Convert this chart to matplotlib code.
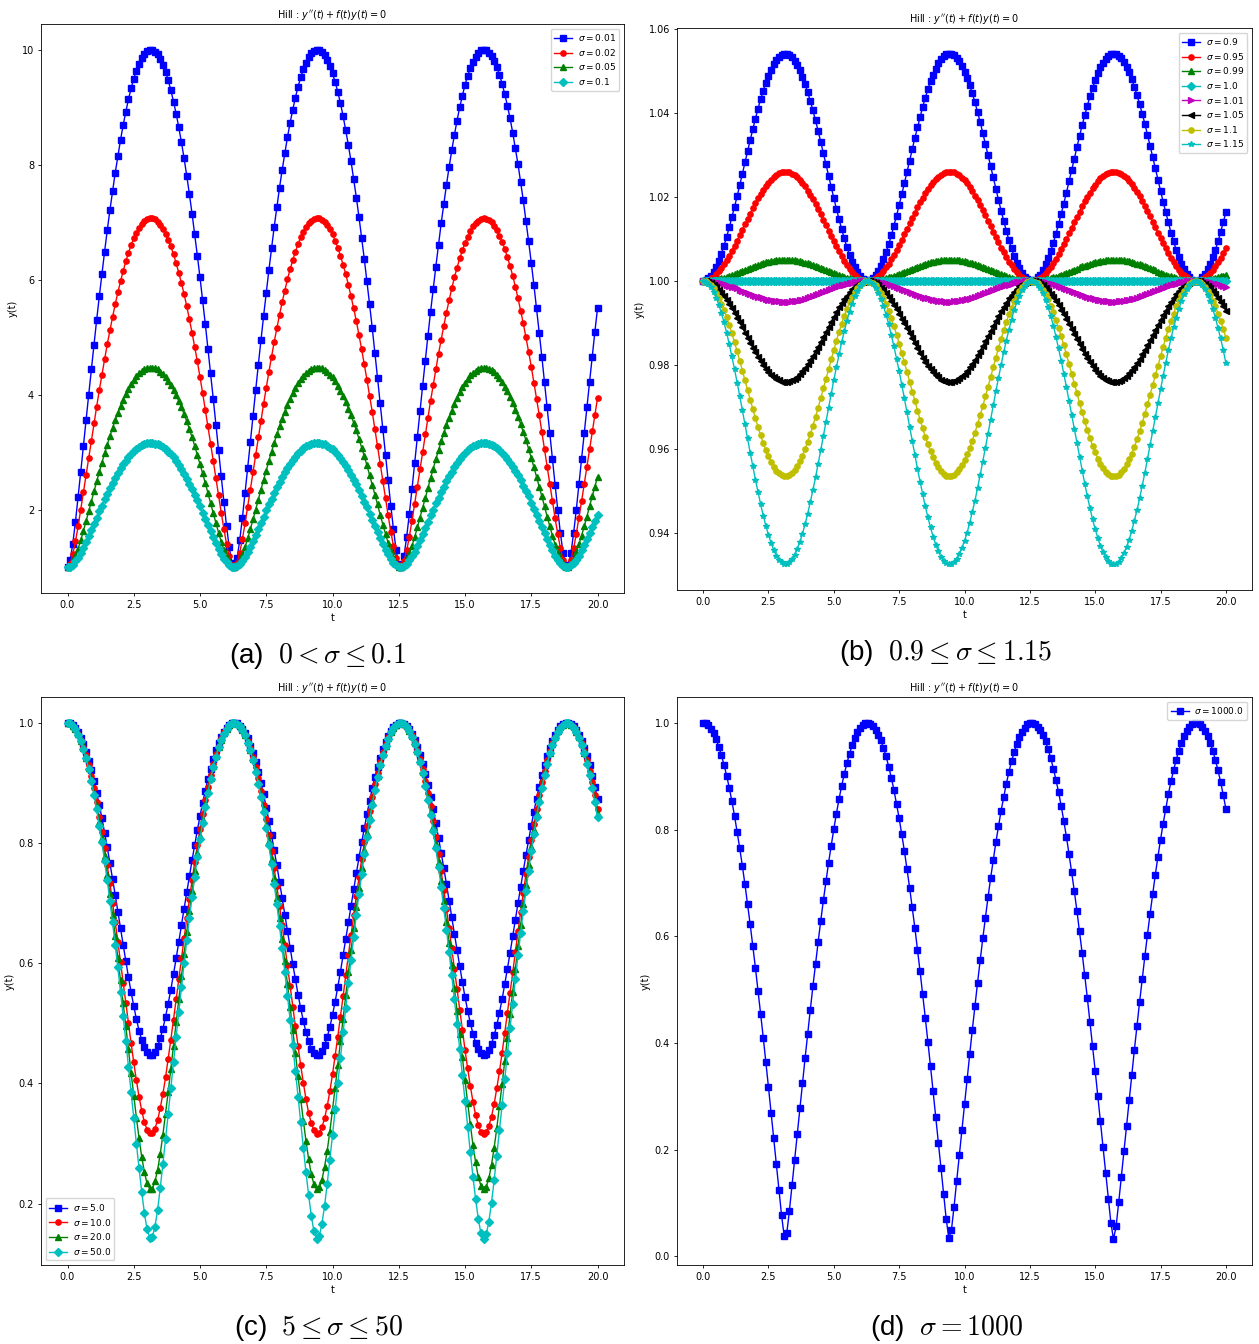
import numpy as np
import matplotlib
matplotlib.use("Agg")
import matplotlib.pyplot as plt

# Solutions of the Hill equation for several sigma values.
# Time grid: 0 .. 20 with step 0.1 (201 samples per curve).
t = np.linspace(0, 20, 201)

# ---- panel (a): 0 < sigma <= 0.1 ----
sig_a = ["0.01", "0.02", "0.05", "0.1"]
y_a1 = [1.00, 1.12, 1.41, 1.79, 2.22, 2.66, 3.11, 3.56, 4.00, 4.44,
        4.87, 5.30, 5.71, 6.10, 6.49, 6.86, 7.21, 7.54, 7.86, 8.15,
        8.43, 8.69, 8.92, 9.14, 9.33, 9.50, 9.64, 9.76, 9.86, 9.93,
        9.98, 10.00, 10.00, 9.97, 9.92, 9.84, 9.74, 9.62, 9.47, 9.30,
        9.10, 8.89, 8.65, 8.39, 8.11, 7.81, 7.49, 7.15, 6.79, 6.42,
        6.04, 5.64, 5.23, 4.80, 4.37, 3.93, 3.48, 3.03, 2.58, 2.14,
        1.72, 1.35, 1.08, 1.00, 1.16, 1.47, 1.86, 2.29, 2.73, 3.18,
        3.63, 4.08, 4.52, 4.95, 5.37, 5.77, 6.17, 6.55, 6.92, 7.26,
        7.60, 7.91, 8.20, 8.48, 8.73, 8.96, 9.17, 9.36, 9.52, 9.66,
        9.78, 9.87, 9.94, 9.98, 10.00, 9.99, 9.96, 9.91, 9.83, 9.72,
        9.59, 9.44, 9.27, 9.07, 8.85, 8.60, 8.34, 8.06, 7.75, 7.43,
        7.09, 6.73, 6.36, 5.97, 5.57, 5.16, 4.73, 4.29, 3.85, 3.40,
        2.95, 2.51, 2.07, 1.66, 1.30, 1.05, 1.01, 1.20, 1.53, 1.93,
        2.36, 2.81, 3.26, 3.71, 4.15, 4.59, 5.02, 5.44, 5.84, 6.23,
        6.61, 6.98, 7.32, 7.65, 7.96, 8.25, 8.52, 8.77, 9.00, 9.20,
        9.39, 9.55, 9.68, 9.79, 9.88, 9.95, 9.99, 10.00, 9.99, 9.95,
        9.89, 9.81, 9.70, 9.57, 9.41, 9.23, 9.03, 8.81, 8.56, 8.29,
        8.01, 7.70, 7.38, 7.03, 6.67, 6.30, 5.91, 5.50, 5.08, 4.66,
        4.22, 3.78, 3.33, 2.88, 2.43, 2.00, 1.59, 1.25, 1.03, 1.03,
        1.25, 1.60, 2.00, 2.44, 2.88, 3.33, 3.78, 4.22, 4.66, 5.09,
        5.50]
y_a2 = [1.00, 1.06, 1.22, 1.45, 1.71, 2.00, 2.30, 2.60, 2.90, 3.20,
        3.50, 3.79, 4.08, 4.35, 4.62, 4.88, 5.12, 5.35, 5.57, 5.78,
        5.97, 6.15, 6.32, 6.47, 6.60, 6.72, 6.82, 6.90, 6.97, 7.02,
        7.05, 7.07, 7.07, 7.05, 7.01, 6.96, 6.89, 6.80, 6.70, 6.58,
        6.44, 6.29, 6.12, 5.94, 5.75, 5.54, 5.31, 5.08, 4.83, 4.58,
        4.31, 4.03, 3.74, 3.45, 3.15, 2.85, 2.55, 2.25, 1.95, 1.67,
        1.41, 1.19, 1.04, 1.00, 1.08, 1.25, 1.49, 1.76, 2.05, 2.35,
        2.65, 2.95, 3.26, 3.55, 3.84, 4.12, 4.40, 4.66, 4.92, 5.16,
        5.39, 5.61, 5.81, 6.01, 6.18, 6.34, 6.49, 6.62, 6.74, 6.83,
        6.92, 6.98, 7.03, 7.06, 7.07, 7.07, 7.04, 7.01, 6.95, 6.88,
        6.79, 6.68, 6.56, 6.42, 6.26, 6.10, 5.91, 5.71, 5.50, 5.28,
        5.04, 4.79, 4.53, 4.26, 3.98, 3.70, 3.40, 3.10, 2.80, 2.50,
        2.20, 1.90, 1.62, 1.37, 1.16, 1.03, 1.01, 1.10, 1.29, 1.53,
        1.81, 2.10, 2.40, 2.70, 3.01, 3.31, 3.60, 3.89, 4.17, 4.44,
        4.71, 4.96, 5.20, 5.43, 5.64, 5.85, 6.04, 6.21, 6.37, 6.51,
        6.64, 6.75, 6.85, 6.93, 6.99, 7.03, 7.06, 7.07, 7.06, 7.04,
        7.00, 6.94, 6.86, 6.77, 6.66, 6.54, 6.39, 6.24, 6.07, 5.88,
        5.68, 5.46, 5.24, 5.00, 4.75, 4.49, 4.21, 3.93, 3.65, 3.35,
        3.05, 2.75, 2.45, 2.15, 1.85, 1.58, 1.33, 1.13, 1.01, 1.02,
        1.13, 1.33, 1.58, 1.86, 2.15, 2.45, 2.75, 3.06, 3.36, 3.65,
        3.94]
y_a3 = [1.00, 1.02, 1.09, 1.19, 1.32, 1.47, 1.63, 1.80, 1.97, 2.14,
        2.32, 2.49, 2.66, 2.82, 2.98, 3.13, 3.28, 3.42, 3.56, 3.68,
        3.80, 3.91, 4.01, 4.10, 4.18, 4.26, 4.32, 4.37, 4.41, 4.44,
        4.46, 4.47, 4.47, 4.46, 4.44, 4.40, 4.36, 4.31, 4.24, 4.17,
        4.09, 4.00, 3.89, 3.78, 3.66, 3.54, 3.40, 3.26, 3.11, 2.95,
        2.79, 2.63, 2.46, 2.29, 2.11, 1.94, 1.77, 1.60, 1.44, 1.30,
        1.17, 1.08, 1.02, 1.00, 1.03, 1.11, 1.21, 1.35, 1.50, 1.66,
        1.83, 2.00, 2.17, 2.35, 2.52, 2.68, 2.85, 3.01, 3.16, 3.31,
        3.45, 3.58, 3.70, 3.82, 3.93, 4.03, 4.12, 4.20, 4.27, 4.33,
        4.38, 4.42, 4.45, 4.46, 4.47, 4.47, 4.46, 4.43, 4.40, 4.35,
        4.30, 4.23, 4.16, 4.07, 3.98, 3.88, 3.76, 3.64, 3.51, 3.38,
        3.23, 3.08, 2.93, 2.77, 2.60, 2.43, 2.26, 2.09, 1.91, 1.74,
        1.58, 1.42, 1.28, 1.16, 1.06, 1.01, 1.00, 1.04, 1.12, 1.23,
        1.37, 1.52, 1.69, 1.86, 2.03, 2.20, 2.37, 2.55, 2.71, 2.88,
        3.03, 3.19, 3.33, 3.47, 3.60, 3.72, 3.84, 3.95, 4.04, 4.13,
        4.21, 4.28, 4.34, 4.38, 4.42, 4.45, 4.47, 4.47, 4.47, 4.45,
        4.43, 4.39, 4.34, 4.29, 4.22, 4.14, 4.06, 3.96, 3.86, 3.74,
        3.62, 3.49, 3.35, 3.21, 3.06, 2.90, 2.74, 2.57, 2.40, 2.23,
        2.06, 1.88, 1.71, 1.55, 1.39, 1.25, 1.14, 1.05, 1.01, 1.01,
        1.05, 1.14, 1.26, 1.40, 1.55, 1.71, 1.88, 2.06, 2.23, 2.40,
        2.57]
y_a4 = [1.00, 1.01, 1.04, 1.10, 1.16, 1.25, 1.34, 1.43, 1.54, 1.64,
        1.75, 1.86, 1.97, 2.07, 2.18, 2.28, 2.37, 2.47, 2.55, 2.64,
        2.72, 2.79, 2.85, 2.92, 2.97, 3.02, 3.06, 3.09, 3.12, 3.14,
        3.16, 3.16, 3.16, 3.15, 3.14, 3.12, 3.09, 3.05, 3.01, 2.96,
        2.91, 2.84, 2.78, 2.70, 2.62, 2.54, 2.45, 2.36, 2.26, 2.16,
        2.06, 1.95, 1.84, 1.73, 1.63, 1.52, 1.42, 1.32, 1.23, 1.15,
        1.09, 1.04, 1.01, 1.00, 1.02, 1.05, 1.11, 1.18, 1.26, 1.35,
        1.45, 1.56, 1.66, 1.77, 1.88, 1.99, 2.09, 2.19, 2.29, 2.39,
        2.48, 2.57, 2.65, 2.73, 2.80, 2.87, 2.92, 2.98, 3.02, 3.07,
        3.10, 3.12, 3.14, 3.16, 3.16, 3.16, 3.15, 3.14, 3.11, 3.08,
        3.05, 3.00, 2.95, 2.90, 2.83, 2.76, 2.69, 2.61, 2.52, 2.44,
        2.34, 2.24, 2.14, 2.04, 1.93, 1.82, 1.72, 1.61, 1.50, 1.40,
        1.30, 1.22, 1.14, 1.08, 1.03, 1.00, 1.00, 1.02, 1.06, 1.12,
        1.19, 1.27, 1.37, 1.47, 1.57, 1.68, 1.79, 1.90, 2.00, 2.11,
        2.21, 2.31, 2.40, 2.50, 2.58, 2.66, 2.74, 2.81, 2.88, 2.93,
        2.99, 3.03, 3.07, 3.10, 3.13, 3.15, 3.16, 3.16, 3.16, 3.15,
        3.13, 3.11, 3.08, 3.04, 2.99, 2.94, 2.89, 2.82, 2.75, 2.68,
        2.60, 2.51, 2.42, 2.32, 2.23, 2.12, 2.02, 1.91, 1.81, 1.70,
        1.59, 1.49, 1.38, 1.29, 1.20, 1.13, 1.07, 1.02, 1.00, 1.00,
        1.03, 1.07, 1.13, 1.20, 1.29, 1.39, 1.49, 1.59, 1.70, 1.81,
        1.91]

# ---- panel (b): 0.9 <= sigma <= 1.15 ----
sig_b = ["0.9", "0.95", "0.99", "1.0", "1.01", "1.05", "1.1", "1.15"]
y_b1 = [1.0000, 1.0001, 1.0006, 1.0012, 1.0022, 1.0034, 1.0048, 1.0065, 1.0084, 1.0105,
        1.0127, 1.0151, 1.0176, 1.0201, 1.0228, 1.0255, 1.0282, 1.0309, 1.0335, 1.0361,
        1.0386, 1.0410, 1.0432, 1.0453, 1.0472, 1.0488, 1.0503, 1.0516, 1.0526, 1.0533,
        1.0538, 1.0541, 1.0541, 1.0538, 1.0532, 1.0524, 1.0514, 1.0501, 1.0486, 1.0468,
        1.0449, 1.0428, 1.0406, 1.0382, 1.0357, 1.0331, 1.0304, 1.0277, 1.0250, 1.0223,
        1.0197, 1.0171, 1.0147, 1.0123, 1.0101, 1.0081, 1.0062, 1.0046, 1.0032, 1.0020,
        1.0011, 1.0005, 1.0001, 1.0000, 1.0002, 1.0007, 1.0014, 1.0024, 1.0036, 1.0051,
        1.0068, 1.0087, 1.0108, 1.0131, 1.0155, 1.0180, 1.0206, 1.0232, 1.0259, 1.0286,
        1.0313, 1.0340, 1.0365, 1.0390, 1.0414, 1.0436, 1.0456, 1.0475, 1.0491, 1.0505,
        1.0518, 1.0527, 1.0534, 1.0539, 1.0541, 1.0540, 1.0537, 1.0531, 1.0523, 1.0512,
        1.0498, 1.0483, 1.0465, 1.0446, 1.0425, 1.0402, 1.0378, 1.0352, 1.0326, 1.0300,
        1.0273, 1.0246, 1.0219, 1.0193, 1.0167, 1.0143, 1.0119, 1.0097, 1.0077, 1.0059,
        1.0043, 1.0030, 1.0018, 1.0010, 1.0004, 1.0001, 1.0000, 1.0002, 1.0008, 1.0015,
        1.0026, 1.0039, 1.0054, 1.0071, 1.0091, 1.0112, 1.0135, 1.0159, 1.0184, 1.0210,
        1.0237, 1.0264, 1.0291, 1.0318, 1.0344, 1.0370, 1.0394, 1.0417, 1.0439, 1.0459,
        1.0477, 1.0494, 1.0508, 1.0519, 1.0529, 1.0535, 1.0539, 1.0541, 1.0540, 1.0536,
        1.0530, 1.0521, 1.0510, 1.0496, 1.0480, 1.0462, 1.0442, 1.0421, 1.0398, 1.0374,
        1.0348, 1.0322, 1.0295, 1.0268, 1.0241, 1.0215, 1.0188, 1.0163, 1.0139, 1.0115,
        1.0094, 1.0074, 1.0056, 1.0041, 1.0028, 1.0017, 1.0009, 1.0003, 1.0000, 1.0000,
        1.0003, 1.0009, 1.0017, 1.0028, 1.0041, 1.0057, 1.0074, 1.0094, 1.0116, 1.0139,
        1.0163]
y_b2 = [1.0000, 1.0001, 1.0003, 1.0006, 1.0010, 1.0016, 1.0023, 1.0031, 1.0040, 1.0050,
        1.0060, 1.0072, 1.0084, 1.0096, 1.0109, 1.0122, 1.0135, 1.0147, 1.0160, 1.0173,
        1.0185, 1.0196, 1.0207, 1.0217, 1.0226, 1.0234, 1.0241, 1.0247, 1.0252, 1.0256,
        1.0258, 1.0260, 1.0259, 1.0258, 1.0255, 1.0252, 1.0246, 1.0240, 1.0233, 1.0225,
        1.0215, 1.0205, 1.0194, 1.0183, 1.0171, 1.0158, 1.0145, 1.0132, 1.0119, 1.0106,
        1.0094, 1.0082, 1.0070, 1.0058, 1.0048, 1.0038, 1.0029, 1.0022, 1.0015, 1.0010,
        1.0005, 1.0002, 1.0000, 1.0000, 1.0001, 1.0003, 1.0007, 1.0011, 1.0017, 1.0024,
        1.0032, 1.0041, 1.0051, 1.0062, 1.0074, 1.0086, 1.0098, 1.0111, 1.0124, 1.0137,
        1.0150, 1.0162, 1.0175, 1.0187, 1.0198, 1.0209, 1.0218, 1.0227, 1.0235, 1.0242,
        1.0248, 1.0253, 1.0256, 1.0259, 1.0260, 1.0259, 1.0258, 1.0255, 1.0251, 1.0245,
        1.0239, 1.0232, 1.0223, 1.0214, 1.0203, 1.0192, 1.0181, 1.0168, 1.0156, 1.0143,
        1.0130, 1.0117, 1.0104, 1.0092, 1.0079, 1.0068, 1.0057, 1.0046, 1.0037, 1.0028,
        1.0021, 1.0014, 1.0009, 1.0005, 1.0002, 1.0000, 1.0000, 1.0001, 1.0004, 1.0007,
        1.0012, 1.0018, 1.0026, 1.0034, 1.0043, 1.0053, 1.0064, 1.0076, 1.0088, 1.0100,
        1.0113, 1.0126, 1.0139, 1.0152, 1.0164, 1.0177, 1.0189, 1.0200, 1.0210, 1.0220,
        1.0229, 1.0237, 1.0244, 1.0249, 1.0254, 1.0257, 1.0259, 1.0260, 1.0259, 1.0257,
        1.0254, 1.0250, 1.0244, 1.0238, 1.0230, 1.0221, 1.0212, 1.0201, 1.0190, 1.0179,
        1.0166, 1.0154, 1.0141, 1.0128, 1.0115, 1.0102, 1.0090, 1.0077, 1.0066, 1.0055,
        1.0045, 1.0035, 1.0027, 1.0019, 1.0013, 1.0008, 1.0004, 1.0001, 1.0000, 1.0000,
        1.0001, 1.0004, 1.0008, 1.0013, 1.0019, 1.0027, 1.0035, 1.0045, 1.0055, 1.0066,
        1.0078]
y_b3 = [1.0, 1.00001, 1.00005, 1.00011, 1.00020, 1.00031, 1.00044, 1.00059, 1.00077, 1.00096,
        1.00116, 1.00138, 1.00161, 1.00185, 1.00210, 1.00235, 1.00260, 1.00285, 1.00310, 1.00334,
        1.00357, 1.00380, 1.00401, 1.00420, 1.00438, 1.00454, 1.00468, 1.00480, 1.00490, 1.00497,
        1.00502, 1.00504, 1.00504, 1.00501, 1.00496, 1.00488, 1.00478, 1.00466, 1.00452, 1.00435,
        1.00417, 1.00397, 1.00376, 1.00353, 1.00330, 1.00305, 1.00281, 1.00255, 1.00230, 1.00205,
        1.00181, 1.00157, 1.00134, 1.00112, 1.00092, 1.00073, 1.00057, 1.00042, 1.00029, 1.00018,
        1.00010, 1.00004, 1.00001, 1.0, 1.00002, 1.00006, 1.00013, 1.00022, 1.00033, 1.00047,
        1.00062, 1.00080, 1.00099, 1.00120, 1.00142, 1.00165, 1.00189, 1.00214, 1.00239, 1.00264,
        1.00289, 1.00314, 1.00338, 1.00361, 1.00383, 1.00404, 1.00423, 1.00441, 1.00457, 1.00470,
        1.00482, 1.00491, 1.00498, 1.00502, 1.00504, 1.00504, 1.00500, 1.00495, 1.00487, 1.00476,
        1.00464, 1.00449, 1.00432, 1.00414, 1.00394, 1.00372, 1.00349, 1.00326, 1.00301, 1.00276,
        1.00251, 1.00226, 1.00201, 1.00177, 1.00153, 1.00130, 1.00109, 1.00089, 1.00071, 1.00054,
        1.00039, 1.00027, 1.00017, 1.00009, 1.00003, 1.00001, 1.0, 1.00002, 1.00007, 1.00014,
        1.00023, 1.00035, 1.00049, 1.00065, 1.00083, 1.00102, 1.00123, 1.00145, 1.00169, 1.00193,
        1.00218, 1.00243, 1.00268, 1.00293, 1.00318, 1.00342, 1.00365, 1.00387, 1.00408, 1.00427,
        1.00444, 1.00460, 1.00473, 1.00484, 1.00493, 1.00499, 1.00503, 1.00505, 1.00504, 1.00500,
        1.00494, 1.00486, 1.00475, 1.00462, 1.00447, 1.00430, 1.00411, 1.00391, 1.00369, 1.00346,
        1.00322, 1.00297, 1.00272, 1.00247, 1.00222, 1.00197, 1.00173, 1.00149, 1.00127, 1.00106,
        1.00086, 1.00068, 1.00051, 1.00037, 1.00025, 1.00015, 1.00008, 1.00003, 1.0, 1.0,
        1.00003, 1.00008, 1.00015, 1.00025, 1.00037, 1.00052, 1.00068, 1.00086, 1.00106, 1.00127,
        1.00149]
y_b4 = [1.0] * 201  # sigma = 1 stays flat at 1.0
y_b5 = [1.0, 0.99999, 0.99995, 0.99989, 0.99980, 0.99970, 0.99957, 0.99942, 0.99924, 0.99906,
        0.99886, 0.99864, 0.99842, 0.99818, 0.99794, 0.99769, 0.99745, 0.99720, 0.99696, 0.99672,
        0.99649, 0.99627, 0.99606, 0.99588, 0.99570, 0.99554, 0.99540, 0.99529, 0.99519, 0.99512,
        0.99507, 0.99505, 0.99505, 0.99508, 0.99513, 0.99521, 0.99531, 0.99542, 0.99556, 0.99573,
        0.99590, 0.99610, 0.99631, 0.99653, 0.99676, 0.99700, 0.99724, 0.99750, 0.99774, 0.99799,
        0.99822, 0.99846, 0.99868, 0.99890, 0.99910, 0.99928, 0.99944, 0.99959, 0.99972, 0.99982,
        0.99990, 0.99996, 0.99999, 1.0, 0.99998, 0.99994, 0.99987, 0.99978, 0.99968, 0.99954,
        0.99939, 0.99921, 0.99903, 0.99882, 0.99861, 0.99838, 0.99814, 0.99790, 0.99765, 0.99741,
        0.99716, 0.99692, 0.99668, 0.99645, 0.99624, 0.99603, 0.99585, 0.99567, 0.99551, 0.99538,
        0.99527, 0.99518, 0.99511, 0.99507, 0.99505, 0.99505, 0.99509, 0.99514, 0.99522, 0.99533,
        0.99544, 0.99559, 0.99576, 0.99593, 0.99613, 0.99635, 0.99657, 0.99680, 0.99704, 0.99729,
        0.99754, 0.99778, 0.99803, 0.99826, 0.99850, 0.99872, 0.99893, 0.99913, 0.99930, 0.99947,
        0.99962, 0.99973, 0.99983, 0.99991, 0.99997, 0.99999, 1.0, 0.99998, 0.99993, 0.99986,
        0.99977, 0.99966, 0.99952, 0.99936, 0.99918, 0.99900, 0.99879, 0.99858, 0.99834, 0.99810,
        0.99786, 0.99761, 0.99737, 0.99712, 0.99688, 0.99664, 0.99642, 0.99620, 0.99599, 0.99581,
        0.99564, 0.99548, 0.99536, 0.99525, 0.99516, 0.99510, 0.99506, 0.99504, 0.99505, 0.99509,
        0.99515, 0.99523, 0.99534, 0.99546, 0.99561, 0.99578, 0.99596, 0.99616, 0.99638, 0.99660,
        0.99684, 0.99708, 0.99733, 0.99757, 0.99782, 0.99807, 0.99830, 0.99854, 0.99875, 0.99896,
        0.99916, 0.99933, 0.99950, 0.99964, 0.99975, 0.99985, 0.99992, 0.99997, 1.0, 1.0,
        0.99997, 0.99992, 0.99985, 0.99975, 0.99964, 0.99949, 0.99933, 0.99916, 0.99896, 0.99875,
        0.99854]
y_b6 = [1.0000, 0.9999, 0.9998, 0.9995, 0.9991, 0.9985, 0.9979, 0.9972, 0.9964, 0.9955,
        0.9945, 0.9935, 0.9924, 0.9912, 0.9901, 0.9889, 0.9877, 0.9865, 0.9853, 0.9841,
        0.9830, 0.9819, 0.9809, 0.9800, 0.9791, 0.9783, 0.9777, 0.9771, 0.9766, 0.9763,
        0.9760, 0.9759, 0.9759, 0.9761, 0.9763, 0.9767, 0.9772, 0.9778, 0.9785, 0.9792,
        0.9801, 0.9811, 0.9821, 0.9832, 0.9843, 0.9855, 0.9867, 0.9879, 0.9891, 0.9903,
        0.9914, 0.9926, 0.9937, 0.9947, 0.9956, 0.9965, 0.9973, 0.9980, 0.9986, 0.9991,
        0.9995, 0.9998, 1.0000, 1.0000, 0.9999, 0.9997, 0.9994, 0.9990, 0.9984, 0.9978,
        0.9971, 0.9962, 0.9953, 0.9943, 0.9933, 0.9922, 0.9910, 0.9899, 0.9887, 0.9875,
        0.9863, 0.9851, 0.9839, 0.9828, 0.9817, 0.9807, 0.9798, 0.9790, 0.9782, 0.9775,
        0.9770, 0.9765, 0.9762, 0.9760, 0.9759, 0.9759, 0.9761, 0.9764, 0.9768, 0.9773,
        0.9779, 0.9786, 0.9794, 0.9803, 0.9812, 0.9823, 0.9834, 0.9845, 0.9857, 0.9869,
        0.9881, 0.9893, 0.9905, 0.9916, 0.9928, 0.9938, 0.9948, 0.9958, 0.9967, 0.9974,
        0.9981, 0.9987, 0.9992, 0.9996, 0.9998, 1.0000, 1.0000, 0.9999, 0.9997, 0.9993,
        0.9989, 0.9983, 0.9977, 0.9969, 0.9961, 0.9952, 0.9942, 0.9931, 0.9920, 0.9909,
        0.9897, 0.9885, 0.9873, 0.9861, 0.9849, 0.9837, 0.9826, 0.9816, 0.9806, 0.9797,
        0.9788, 0.9781, 0.9774, 0.9769, 0.9765, 0.9762, 0.9760, 0.9759, 0.9760, 0.9761,
        0.9764, 0.9768, 0.9774, 0.9780, 0.9787, 0.9795, 0.9804, 0.9814, 0.9825, 0.9836,
        0.9847, 0.9859, 0.9871, 0.9883, 0.9895, 0.9907, 0.9918, 0.9929, 0.9940, 0.9950,
        0.9959, 0.9968, 0.9976, 0.9982, 0.9988, 0.9993, 0.9996, 0.9999, 1.0000, 1.0000,
        0.9999, 0.9996, 0.9993, 0.9988, 0.9982, 0.9976, 0.9968, 0.9959, 0.9950, 0.9940,
        0.9929]
y_b7 = [1.0000, 0.9999, 0.9995, 0.9990, 0.9982, 0.9972, 0.9960, 0.9946, 0.9931, 0.9914,
        0.9895, 0.9875, 0.9854, 0.9832, 0.9810, 0.9786, 0.9763, 0.9740, 0.9717, 0.9695,
        0.9673, 0.9652, 0.9632, 0.9614, 0.9597, 0.9582, 0.9569, 0.9557, 0.9548, 0.9542,
        0.9537, 0.9535, 0.9535, 0.9538, 0.9543, 0.9550, 0.9559, 0.9571, 0.9584, 0.9600,
        0.9617, 0.9635, 0.9655, 0.9676, 0.9698, 0.9721, 0.9744, 0.9767, 0.9790, 0.9813,
        0.9836, 0.9858, 0.9878, 0.9898, 0.9917, 0.9934, 0.9949, 0.9962, 0.9974, 0.9984,
        0.9991, 0.9996, 0.9999, 1.0000, 0.9998, 0.9995, 0.9989, 0.9981, 0.9970, 0.9958,
        0.9944, 0.9928, 0.9911, 0.9892, 0.9872, 0.9850, 0.9828, 0.9806, 0.9783, 0.9759,
        0.9736, 0.9713, 0.9691, 0.9669, 0.9649, 0.9629, 0.9611, 0.9594, 0.9580, 0.9567,
        0.9556, 0.9547, 0.9540, 0.9536, 0.9535, 0.9535, 0.9538, 0.9544, 0.9551, 0.9561,
        0.9573, 0.9587, 0.9603, 0.9620, 0.9639, 0.9659, 0.9680, 0.9702, 0.9725, 0.9748,
        0.9771, 0.9794, 0.9817, 0.9840, 0.9861, 0.9882, 0.9901, 0.9920, 0.9936, 0.9951,
        0.9964, 0.9976, 0.9985, 0.9992, 0.9997, 1.0000, 1.0000, 0.9998, 0.9994, 0.9987,
        0.9979, 0.9968, 0.9956, 0.9941, 0.9925, 0.9907, 0.9888, 0.9868, 0.9847, 0.9825,
        0.9802, 0.9779, 0.9755, 0.9732, 0.9709, 0.9687, 0.9666, 0.9645, 0.9626, 0.9608,
        0.9592, 0.9577, 0.9565, 0.9554, 0.9546, 0.9540, 0.9536, 0.9535, 0.9536, 0.9539,
        0.9545, 0.9553, 0.9563, 0.9575, 0.9589, 0.9605, 0.9623, 0.9642, 0.9662, 0.9684,
        0.9706, 0.9729, 0.9752, 0.9775, 0.9798, 0.9821, 0.9843, 0.9865, 0.9885, 0.9905,
        0.9922, 0.9939, 0.9954, 0.9966, 0.9977, 0.9986, 0.9993, 0.9997, 1.0000, 1.0000,
        0.9997, 0.9993, 0.9986, 0.9977, 0.9966, 0.9953, 0.9939, 0.9922, 0.9904, 0.9885,
        0.9865]
y_b8 = [1.0000, 0.9998, 0.9993, 0.9985, 0.9974, 0.9960, 0.9943, 0.9923, 0.9901, 0.9876,
        0.9849, 0.9820, 0.9790, 0.9758, 0.9726, 0.9692, 0.9659, 0.9625, 0.9591, 0.9559,
        0.9527, 0.9497, 0.9468, 0.9441, 0.9417, 0.9395, 0.9376, 0.9359, 0.9346, 0.9336,
        0.9330, 0.9326, 0.9327, 0.9330, 0.9338, 0.9348, 0.9362, 0.9379, 0.9398, 0.9421,
        0.9446, 0.9473, 0.9502, 0.9532, 0.9564, 0.9597, 0.9631, 0.9664, 0.9698, 0.9731,
        0.9764, 0.9795, 0.9825, 0.9854, 0.9880, 0.9905, 0.9927, 0.9946, 0.9963, 0.9976,
        0.9987, 0.9995, 0.9999, 1.0000, 0.9998, 0.9992, 0.9984, 0.9972, 0.9957, 0.9940,
        0.9919, 0.9897, 0.9871, 0.9844, 0.9815, 0.9785, 0.9753, 0.9720, 0.9687, 0.9653,
        0.9619, 0.9586, 0.9553, 0.9522, 0.9492, 0.9463, 0.9437, 0.9413, 0.9391, 0.9372,
        0.9356, 0.9343, 0.9334, 0.9328, 0.9325, 0.9326, 0.9330, 0.9338, 0.9349, 0.9364,
        0.9381, 0.9401, 0.9424, 0.9450, 0.9477, 0.9507, 0.9538, 0.9570, 0.9603, 0.9636,
        0.9670, 0.9704, 0.9737, 0.9769, 0.9800, 0.9830, 0.9858, 0.9884, 0.9908, 0.9930,
        0.9949, 0.9965, 0.9978, 0.9988, 0.9995, 0.9999, 1.0000, 0.9997, 0.9991, 0.9982,
        0.9970, 0.9955, 0.9937, 0.9916, 0.9893, 0.9867, 0.9839, 0.9810, 0.9779, 0.9747,
        0.9714, 0.9681, 0.9647, 0.9614, 0.9581, 0.9548, 0.9517, 0.9487, 0.9459, 0.9432,
        0.9409, 0.9388, 0.9369, 0.9354, 0.9342, 0.9333, 0.9327, 0.9325, 0.9327, 0.9332,
        0.9340, 0.9352, 0.9366, 0.9384, 0.9405, 0.9429, 0.9454, 0.9482, 0.9512, 0.9543,
        0.9576, 0.9609, 0.9642, 0.9676, 0.9709, 0.9742, 0.9774, 0.9805, 0.9835, 0.9863,
        0.9889, 0.9912, 0.9933, 0.9952, 0.9968, 0.9980, 0.9990, 0.9996, 1.0000, 1.0000,
        0.9996, 0.9990, 0.9980, 0.9967, 0.9952, 0.9933, 0.9912, 0.9888, 0.9863, 0.9835,
        0.9805]

# ---- panel (c): 5 <= sigma <= 50 ----
sig_c = ["5.0", "10.0", "20.0", "50.0"]
y_c1 = [1.000, 0.999, 0.996, 0.991, 0.984, 0.975, 0.964, 0.952, 0.937, 0.921,
        0.903, 0.884, 0.863, 0.841, 0.817, 0.793, 0.767, 0.741, 0.714, 0.686,
        0.658, 0.631, 0.604, 0.577, 0.552, 0.529, 0.507, 0.488, 0.472, 0.460,
        0.452, 0.448, 0.448, 0.453, 0.462, 0.475, 0.491, 0.511, 0.533, 0.556,
        0.582, 0.608, 0.636, 0.663, 0.691, 0.718, 0.745, 0.771, 0.797, 0.821,
        0.845, 0.867, 0.887, 0.907, 0.924, 0.940, 0.954, 0.966, 0.977, 0.985,
        0.992, 0.997, 0.999, 1.000, 0.999, 0.995, 0.990, 0.983, 0.974, 0.962,
        0.950, 0.935, 0.918, 0.900, 0.881, 0.859, 0.837, 0.813, 0.788, 0.763,
        0.736, 0.709, 0.681, 0.654, 0.626, 0.599, 0.573, 0.548, 0.525, 0.504,
        0.485, 0.470, 0.458, 0.451, 0.447, 0.448, 0.454, 0.464, 0.477, 0.494,
        0.514, 0.536, 0.561, 0.586, 0.613, 0.640, 0.668, 0.695, 0.723, 0.750,
        0.776, 0.801, 0.825, 0.848, 0.870, 0.891, 0.910, 0.927, 0.942, 0.956,
        0.968, 0.978, 0.987, 0.993, 0.997, 1.000, 1.000, 0.998, 0.995, 0.989,
        0.981, 0.972, 0.960, 0.947, 0.932, 0.915, 0.897, 0.877, 0.856, 0.833,
        0.809, 0.784, 0.758, 0.732, 0.704, 0.677, 0.649, 0.622, 0.595, 0.569,
        0.544, 0.521, 0.501, 0.483, 0.468, 0.457, 0.450, 0.447, 0.449, 0.455,
        0.466, 0.480, 0.497, 0.518, 0.540, 0.565, 0.591, 0.617, 0.645, 0.672,
        0.700, 0.727, 0.754, 0.780, 0.805, 0.829, 0.852, 0.874, 0.894, 0.913,
        0.930, 0.945, 0.958, 0.970, 0.980, 0.988, 0.994, 0.998, 1.000, 1.000,
        0.998, 0.994, 0.988, 0.980, 0.970, 0.958, 0.945, 0.929, 0.912, 0.894,
        0.874]
y_c2 = [1.000, 0.999, 0.995, 0.990, 0.982, 0.972, 0.960, 0.946, 0.929, 0.911,
        0.891, 0.868, 0.844, 0.819, 0.792, 0.763, 0.733, 0.701, 0.669, 0.636,
        0.602, 0.568, 0.534, 0.500, 0.467, 0.435, 0.405, 0.378, 0.355, 0.336,
        0.323, 0.317, 0.317, 0.325, 0.339, 0.359, 0.383, 0.410, 0.441, 0.473,
        0.506, 0.540, 0.574, 0.608, 0.642, 0.675, 0.707, 0.738, 0.768, 0.796,
        0.823, 0.849, 0.872, 0.894, 0.914, 0.932, 0.948, 0.962, 0.974, 0.984,
        0.991, 0.996, 0.999, 1.000, 0.998, 0.995, 0.989, 0.981, 0.970, 0.958,
        0.943, 0.926, 0.908, 0.887, 0.864, 0.840, 0.814, 0.787, 0.758, 0.728,
        0.696, 0.664, 0.630, 0.597, 0.562, 0.528, 0.495, 0.462, 0.430, 0.401,
        0.374, 0.351, 0.334, 0.322, 0.316, 0.318, 0.327, 0.342, 0.362, 0.387,
        0.415, 0.446, 0.478, 0.511, 0.545, 0.580, 0.614, 0.647, 0.680, 0.712,
        0.743, 0.773, 0.801, 0.828, 0.853, 0.876, 0.898, 0.917, 0.935, 0.951,
        0.964, 0.976, 0.985, 0.992, 0.997, 1.000, 1.000, 0.998, 0.994, 0.988,
        0.979, 0.968, 0.955, 0.940, 0.923, 0.904, 0.883, 0.861, 0.836, 0.810,
        0.782, 0.753, 0.722, 0.691, 0.658, 0.625, 0.591, 0.557, 0.523, 0.489,
        0.456, 0.425, 0.396, 0.370, 0.348, 0.331, 0.320, 0.316, 0.319, 0.329,
        0.345, 0.366, 0.392, 0.420, 0.451, 0.484, 0.517, 0.551, 0.585, 0.619,
        0.653, 0.686, 0.717, 0.748, 0.777, 0.805, 0.832, 0.857, 0.880, 0.901,
        0.920, 0.938, 0.953, 0.966, 0.977, 0.986, 0.993, 0.997, 1.000, 1.000,
        0.997, 0.993, 0.986, 0.977, 0.966, 0.953, 0.938, 0.920, 0.901, 0.880,
        0.857]
y_c3 = [1.000, 0.999, 0.995, 0.989, 0.981, 0.970, 0.958, 0.942, 0.925, 0.906,
        0.884, 0.861, 0.835, 0.808, 0.778, 0.747, 0.715, 0.681, 0.646, 0.609,
        0.572, 0.534, 0.495, 0.457, 0.418, 0.380, 0.343, 0.309, 0.278, 0.253,
        0.234, 0.225, 0.225, 0.237, 0.256, 0.283, 0.315, 0.350, 0.386, 0.424,
        0.463, 0.502, 0.540, 0.578, 0.616, 0.652, 0.687, 0.720, 0.753, 0.783,
        0.812, 0.839, 0.865, 0.888, 0.909, 0.928, 0.945, 0.960, 0.972, 0.983,
        0.990, 0.996, 0.999, 1.000, 0.998, 0.994, 0.988, 0.979, 0.968, 0.955,
        0.940, 0.922, 0.902, 0.880, 0.856, 0.830, 0.803, 0.773, 0.742, 0.709,
        0.675, 0.640, 0.603, 0.566, 0.528, 0.489, 0.450, 0.412, 0.374, 0.338,
        0.304, 0.274, 0.249, 0.232, 0.224, 0.227, 0.239, 0.261, 0.288, 0.320,
        0.356, 0.393, 0.431, 0.470, 0.508, 0.547, 0.585, 0.622, 0.658, 0.693,
        0.726, 0.758, 0.788, 0.817, 0.844, 0.869, 0.892, 0.912, 0.931, 0.948,
        0.962, 0.974, 0.984, 0.992, 0.997, 0.999, 1.000, 0.998, 0.994, 0.987,
        0.978, 0.966, 0.953, 0.937, 0.919, 0.899, 0.876, 0.852, 0.826, 0.798,
        0.768, 0.737, 0.704, 0.669, 0.634, 0.597, 0.559, 0.521, 0.482, 0.444,
        0.405, 0.368, 0.332, 0.298, 0.269, 0.245, 0.230, 0.224, 0.228, 0.242,
        0.265, 0.293, 0.326, 0.362, 0.399, 0.437, 0.476, 0.515, 0.553, 0.591,
        0.628, 0.664, 0.698, 0.731, 0.763, 0.793, 0.822, 0.848, 0.873, 0.895,
        0.916, 0.934, 0.950, 0.964, 0.976, 0.986, 0.993, 0.997, 1.000, 1.000,
        0.997, 0.993, 0.985, 0.976, 0.964, 0.950, 0.934, 0.916, 0.895, 0.872,
        0.848]
y_c4 = [1.000, 0.999, 0.995, 0.989, 0.980, 0.970, 0.956, 0.941, 0.923, 0.903,
        0.880, 0.856, 0.829, 0.801, 0.770, 0.738, 0.704, 0.668, 0.631, 0.593,
        0.553, 0.512, 0.471, 0.428, 0.386, 0.343, 0.300, 0.259, 0.220, 0.185,
        0.158, 0.143, 0.144, 0.162, 0.190, 0.226, 0.266, 0.307, 0.350, 0.393,
        0.436, 0.478, 0.519, 0.560, 0.600, 0.638, 0.675, 0.710, 0.744, 0.776,
        0.806, 0.834, 0.860, 0.884, 0.906, 0.926, 0.943, 0.959, 0.972, 0.982,
        0.990, 0.996, 0.999, 1.000, 0.998, 0.994, 0.988, 0.979, 0.967, 0.954,
        0.938, 0.919, 0.899, 0.876, 0.851, 0.825, 0.796, 0.765, 0.732, 0.698,
        0.662, 0.625, 0.586, 0.546, 0.506, 0.464, 0.421, 0.378, 0.336, 0.293,
        0.252, 0.214, 0.180, 0.154, 0.142, 0.146, 0.166, 0.196, 0.233, 0.273,
        0.314, 0.357, 0.400, 0.443, 0.485, 0.526, 0.567, 0.606, 0.644, 0.681,
        0.716, 0.749, 0.781, 0.810, 0.838, 0.864, 0.888, 0.910, 0.929, 0.946,
        0.961, 0.973, 0.984, 0.991, 0.997, 0.999, 1.000, 0.998, 0.993, 0.986,
        0.977, 0.965, 0.951, 0.935, 0.916, 0.895, 0.872, 0.847, 0.820, 0.791,
        0.760, 0.727, 0.692, 0.656, 0.619, 0.580, 0.540, 0.499, 0.457, 0.414,
        0.371, 0.328, 0.286, 0.245, 0.208, 0.175, 0.151, 0.141, 0.149, 0.170,
        0.202, 0.239, 0.280, 0.322, 0.364, 0.407, 0.450, 0.492, 0.533, 0.573,
        0.613, 0.650, 0.687, 0.721, 0.754, 0.786, 0.815, 0.843, 0.868, 0.892,
        0.913, 0.932, 0.949, 0.963, 0.975, 0.985, 0.992, 0.997, 1.000, 1.000,
        0.997, 0.992, 0.985, 0.975, 0.963, 0.949, 0.932, 0.913, 0.892, 0.868,
        0.843]

# ---- panel (d): sigma = 1000 ----
sig_d = ["1000.0"]
y_d1 = [1.000, 0.999, 0.995, 0.989, 0.980, 0.969, 0.955, 0.939, 0.921, 0.901,
        0.878, 0.853, 0.826, 0.796, 0.765, 0.732, 0.697, 0.660, 0.622, 0.582,
        0.541, 0.498, 0.454, 0.410, 0.364, 0.317, 0.269, 0.221, 0.173, 0.125,
        0.077, 0.038, 0.043, 0.085, 0.133, 0.181, 0.229, 0.277, 0.325, 0.371,
        0.417, 0.462, 0.506, 0.548, 0.589, 0.629, 0.667, 0.703, 0.738, 0.770,
        0.801, 0.830, 0.857, 0.882, 0.904, 0.924, 0.942, 0.958, 0.971, 0.982,
        0.990, 0.996, 0.999, 1.000, 0.998, 0.994, 0.987, 0.978, 0.967, 0.953,
        0.937, 0.918, 0.897, 0.874, 0.848, 0.821, 0.791, 0.760, 0.726, 0.691,
        0.654, 0.616, 0.575, 0.534, 0.491, 0.447, 0.402, 0.356, 0.309, 0.261,
        0.213, 0.165, 0.116, 0.070, 0.034, 0.049, 0.093, 0.141, 0.189, 0.237,
        0.285, 0.333, 0.379, 0.425, 0.469, 0.513, 0.555, 0.596, 0.635, 0.673,
        0.709, 0.743, 0.776, 0.806, 0.835, 0.861, 0.886, 0.908, 0.928, 0.945,
        0.960, 0.973, 0.983, 0.991, 0.997, 0.999, 1.000, 0.998, 0.993, 0.986,
        0.977, 0.965, 0.950, 0.934, 0.914, 0.893, 0.870, 0.844, 0.816, 0.786,
        0.754, 0.720, 0.685, 0.648, 0.609, 0.569, 0.527, 0.484, 0.439, 0.394,
        0.348, 0.301, 0.253, 0.205, 0.157, 0.108, 0.063, 0.032, 0.056, 0.101,
        0.149, 0.197, 0.245, 0.293, 0.340, 0.387, 0.432, 0.477, 0.520, 0.562,
        0.603, 0.642, 0.679, 0.715, 0.749, 0.781, 0.811, 0.839, 0.866, 0.890,
        0.911, 0.931, 0.948, 0.963, 0.975, 0.985, 0.992, 0.997, 1.000, 1.000,
        0.997, 0.992, 0.985, 0.975, 0.962, 0.948, 0.930, 0.911, 0.889, 0.865,
        0.839]

styles4 = ["-bs", "-ro", "-g^", "-cD"]
styles8 = ["-bs", "-ro", "-g^", "-cD", "-m>", "-k<", "-yo", "-c*"]

fig = plt.figure(figsize=(12.59, 13.44), dpi=100)

# axes boxes measured in pixels of the 1259x1344 canvas: left, top, right, bottom
W, H = 1259.0, 1344.0
def box(l, t_, r, b):
    return [l / W, 1 - b / H, (r - l) / W, (b - t_) / H]

ax_a = fig.add_axes(box(41, 24, 624, 593))
ax_b = fig.add_axes(box(677, 28, 1252, 590))
ax_c = fig.add_axes(box(41, 697, 624, 1265))
ax_d = fig.add_axes(box(677, 697, 1252, 1265))


def draw_panel(ax, curves, sigmas, styles, loc):
    for y, s, fmt in zip(curves, sigmas, styles):
        if len(y) != len(t):
            raise ValueError("sigma=%s has %d points" % (s, len(y)))
        ax.plot(t, y, fmt, ms=3.8, lw=1.0, label=r"$\sigma = %s$" % s)
    ax.set_title(r"Hill : $y''(t) + f(t)y(t) = 0$", fontsize=7, pad=4)
    ax.set_xlabel("t", fontsize=7, labelpad=2)
    ax.set_ylabel("y(t)", fontsize=7, labelpad=3)
    ax.tick_params(labelsize=7, length=2.5, width=0.6, pad=2.5)
    for sp in ax.spines.values():
        sp.set_linewidth(0.6)
    ax.legend(loc=loc, fontsize=6.5, labelspacing=0.4, handlelength=2.0,
              borderpad=0.4, handletextpad=0.6)


draw_panel(ax_a, [y_a1, y_a2, y_a3, y_a4], sig_a, styles4, "upper right")
draw_panel(ax_b, [y_b1, y_b2, y_b3, y_b4, y_b5, y_b6, y_b7, y_b8], sig_b, styles8, "upper right")
draw_panel(ax_c, [y_c1, y_c2, y_c3, y_c4], sig_c, styles4, "lower left")
draw_panel(ax_d, [y_d1], sig_d, styles4[:1], "upper right")

# sub-figure captions
cap_kw = dict(ha="center", va="center", fontsize=20, family="Liberation Sans",
              math_fontfamily="cm")
fig.text(318 / W, 1 - 656 / H, r"(a)  $0 < \sigma \leq 0.1$", **cap_kw)
fig.text(946 / W, 1 - 653 / H, r"(b)  $0.9 \leq \sigma \leq 1.15$", **cap_kw)
fig.text(318 / W, 1 - 1328 / H, r"(c)  $5 \leq \sigma \leq 50$", **cap_kw)
fig.text(946 / W, 1 - 1328 / H, r"(d)  $\sigma = 1000$", **cap_kw)

fig.savefig("out.png", dpi=100)
